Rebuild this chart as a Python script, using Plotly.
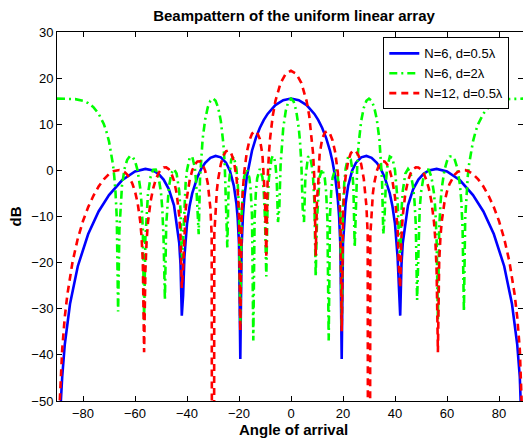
import plotly.graph_objects as go

# ---- data (angle in degrees, level in dB) ----
angle_n6_d05 = [-90, -89.5, -89, -88.5, -88, -87, -85, -82, -78, -74, -70, -65, -60, -56, -53, -51, -49, -47, -45, -43,
                -42.5, -42, -41.5, -41, -40, -39, -38, -36, -34.5, -33, -31, -29, -27, -25, -23.5, -22, -21, -20.5, -20,
                -19.5, -19, -18.5, -18, -17, -16, -15, -13.5, -12, -10.5, -9, -6, -3, 0, 3, 6, 9, 10.5, 12, 13.5, 15, 16,
                17, 18, 18.5, 19, 19.5, 20, 20.5, 21, 22, 23.5, 25, 27, 29, 31, 33, 34.5, 36, 38, 39, 40, 41, 41.5, 42,
                42.5, 43, 45, 47, 49, 51, 53, 56, 60, 65, 70, 74, 78, 82, 85, 87, 88, 88.5, 89, 89.5, 90]
db_n6_d05 = [-310, -68.9, -56.8, -49.9, -44.8, -37.7, -28.97, -20.78, -13.79, -8.90, -5.35, -2.15, -0.23, 0.31, -0.03,
             -0.74, -2.00, -4.04, -7.59, -15.7, -20.35, -31.5, -27.1, -18.8, -11.58, -7.74, -5.00, -1.46, 0.38, 1.64,
             2.73, 3.13, 2.83, 1.66, -0.06, -3.29, -7.17, -10.4, -15.9, -40.9, -16.5, -10.0, -6.25, -1.42, 1.81, 4.26,
             7.06, 9.20, 10.89, 12.24, 14.15, 15.22, 15.56, 15.22, 14.15, 12.24, 10.89, 9.20, 7.06, 4.26, 1.81, -1.42,
             -6.25, -10.0, -16.5, -40.9, -15.9, -10.4, -7.17, -3.29, -0.06, 1.66, 2.83, 3.13, 2.73, 1.64, 0.38, -1.46,
             -5.00, -7.74, -11.58, -18.8, -27.1, -31.5, -20.35, -15.7, -7.59, -4.04, -2.00, -0.74, -0.03, 0.31, -0.23,
             -2.15, -5.35, -8.90, -13.79, -20.78, -28.97, -37.7, -44.8, -49.9, -56.8, -68.9, -310]

angle_n6_d2 = [-90, -86, -83, -80, -78, -76, -74, -72, -71, -70, -69, -68.5, -68, -67.5, -67, -66.5, -66, -65.5, -65,
               -64, -63, -62, -61, -60, -59, -58, -57.5, -57, -56.5, -56, -55.5, -55, -54, -53, -52, -51, -50, -49.5,
               -49, -48.5, -48, -47.5, -47, -46, -45, -44, -43, -42.5, -42, -41.5, -41, -40.5, -40, -39, -38, -37,
               -36.5, -36, -35.5, -35, -34.5, -34, -33, -32, -31, -30, -29, -28, -27, -26, -25.5, -25, -24.5, -24,
               -23.5, -23, -22, -21, -20.5, -20, -19.5, -19, -18.5, -18, -17, -16, -15.5, -15, -14.5, -14, -13.5, -13,
               -12, -11, -10.5, -10, -9.5, -9, -8.5, -8, -7.5, -7, -6.5, -6, -5.5, -5, -4.5, -4, -3.5, -3, -2, -1,
               0, 1, 2, 3, 3.5, 4, 4.5, 5, 5.5, 6, 6.5, 7, 7.5, 8, 8.5, 9, 9.5, 10, 10.5, 11, 12, 13, 13.5, 14, 14.5,
               15, 15.5, 16, 17, 18, 18.5, 19, 19.5, 20, 20.5, 21, 22, 23, 23.5, 24, 24.5, 25, 25.5, 26, 27, 28, 29,
               30, 31, 32, 33, 34, 34.5, 35, 35.5, 36, 36.5, 37, 38, 39, 40, 40.5, 41, 41.5, 42, 42.5, 43, 44, 45, 46,
               47, 47.5, 48, 48.5, 49, 49.5, 50, 51, 52, 53, 54, 55, 55.5, 56, 56.5, 57, 57.5, 58, 59, 60, 61, 62, 63,
               64, 65, 65.5, 66, 66.5, 67, 67.5, 68, 68.5, 69, 70, 71, 72, 74, 76, 78, 80, 83, 86, 90]
db_n6_d2 = [15.56, 15.55, 15.45, 15.09, 14.58, 13.72, 12.31, 10.05, 8.42, 6.29, 3.34, 1.36, -1.17, -4.68, -10.43, -30.6,
            -12.86, -6.64, -3.27, 0.42, 2.30, 3.07, 2.99, 2.04, 0.01, -3.80, -7.04, -12.56, -32.5, -14.73, -8.39, -5.01,
            -1.39, 0.12, 0.17, -1.25, -4.86, -8.33, -15.05, -28.1, -11.83, -6.68, -3.73, -0.61, 0.30, -0.68, -4.44,
            -8.63, -19.55, -15.0, -6.57, -2.53, 0.04, 2.66, 3.01, 0.63, -2.50, -9.91, -13.83, -1.87, 3.33, 6.72, 11.08,
            13.69, 15.10, 15.56, 15.09, 13.58, 10.74, 5.71, 1.42, -6.44, -16.7, -3.60, 0.45, 2.33, 3.00, 0.36, -2.67,
            -8.31, -33.7, -9.78, -4.11, -1.39, 0.31, -1.58, -4.31, -9.71, -36.9, -10.45, -4.62, -1.73, 0.31, -1.44,
            -4.32, -10.65, -23.0, -6.89, -1.73, 1.00, 2.52, 3.12, 2.82, 1.39, -1.91, -11.2, -8.26, 1.23, 5.98, 9.10,
            12.97, 14.94,
            15.56, 14.94, 12.97, 9.10, 5.98, 1.23, -8.26, -11.2, -1.91, 1.39, 2.82, 3.12, 2.52, 1.00, -1.73, -6.89,
            -23.0, -10.65, -4.32, -1.44, 0.31, -1.73, -4.62, -10.45, -36.9, -9.71, -4.31, -1.58, 0.31, -1.39, -4.11,
            -9.78, -33.7, -8.31, -2.67, 0.36, 3.00, 2.33, 0.45, -3.60, -16.7, -6.44, 1.42, 5.71, 10.74, 13.58, 15.09,
            15.56, 15.10, 13.69, 11.08, 6.72, 3.33, -1.87, -13.83, -9.91, -2.50, 0.63, 3.01, 2.66, 0.04, -2.53, -6.57,
            -15.0, -19.55, -8.63, -4.44, -0.68, 0.30, -0.61, -3.73, -6.68, -11.83, -28.1, -15.05, -8.33, -4.86, -1.25,
            0.17, 0.12, -1.39, -5.01, -8.39, -14.73, -32.5, -12.56, -7.04, -3.80, 0.01, 2.04, 2.99, 3.07, 2.30, 0.42,
            -3.27, -6.64, -12.86, -30.6, -10.43, -4.68, -1.17, 1.36, 3.34, 6.29, 8.42, 10.05, 12.31, 13.72, 14.58,
            15.09, 15.45, 15.55, 15.56]

angle_n12_d05 = [-90, -89.5, -89, -88, -87, -86, -84, -82, -80, -78, -76, -74, -72, -70, -68, -67, -66, -65, -64, -63,
                 -62, -61, -60, -59, -58, -57.5, -57, -56.5, -56, -55.5, -55, -54, -53, -52, -51, -50, -49, -48, -47,
                 -46, -45, -44, -43, -42.5, -42, -41.5, -41, -40.5, -40, -39, -38, -37, -36, -35, -34, -33, -32,
                 -31.5, -31, -30.5, -30, -29.5, -29, -28.5, -28, -27, -26, -25, -24, -23, -22, -21, -20.5, -20, -19.5,
                 -19, -18.5, -18, -17, -16, -15, -14, -13, -12, -11, -10.5, -10, -9.5, -9, -8.5, -8, -7, -6, -4, -2,
                 0, 2, 4, 6, 7, 8, 8.5, 9, 9.5, 10, 10.5, 11, 12, 13, 14, 15, 16, 17, 18, 18.5, 19, 19.5, 20, 20.5, 21,
                 22, 23, 24, 25, 26, 27, 28, 28.5, 29, 29.5, 30, 30.5, 31, 31.5, 32, 33, 34, 35, 36, 37, 38, 39, 40,
                 40.5, 41, 41.5, 42, 42.5, 43, 44, 45, 46, 47, 48, 49, 50, 51, 52, 53, 54, 55, 55.5, 56, 56.5, 57, 57.5,
                 58, 59, 60, 61, 62, 63, 64, 65, 66, 67, 68, 70, 72, 74, 76, 78, 80, 82, 84, 86, 87, 88, 89, 89.5, 90]
db_n12_d05 = [-310, -62.9, -50.8, -38.8, -31.76, -26.86, -19.78, -14.78, -10.96, -7.96, -5.51, -3.50, -1.95, -0.81,
              -0.11, 0.05, 0.07, -0.07, -0.39, -0.93, -1.74, -2.90, -4.56, -7.02, -10.99, -14.21, -19.65, -39.4,
              -21.57, -14.93, -11.2, -6.69, -3.89, -1.97, -0.65, 0.20, 0.63, 0.66, 0.26, -0.66, -2.26, -4.92, -9.76,
              -14.33, -25.5, -21.1, -12.71, -8.53, -5.78, -2.21, -0.03, 1.29, 1.94, 1.97, 1.34, -0.11, -2.82, -5.0,
              -8.25, -14.07, -310, -13.8, -7.72, -4.26, -1.85, 1.34, 3.19, 4.15, 4.34, 3.71, 2.04, -1.39, -4.46, -9.93,
              -34.9, -10.5, -4.13, -0.46, 3.91, 6.48, 7.93, 8.51, 8.20, 6.82, 3.48, -2.63, -6.25, -18.5, -2.06, 3.61,
              7.16, 11.88, 15.02, 18.94, 20.95,
              21.58, 20.95, 18.94, 15.02, 11.88, 7.16, 3.61, -2.06, -18.5, -6.25, -2.63, 3.48, 6.82, 8.20, 8.51, 7.93,
              6.48, 3.91, -0.46, -4.13, -10.5, -34.9, -9.93, -4.46, -1.39, 2.04, 3.71, 4.34, 4.15, 3.19, 1.34, -1.85,
              -4.26, -7.72, -13.8, -310, -14.07, -8.25, -5.0, -2.82, -0.11, 1.34, 1.97, 1.94, 1.29, -0.03, -2.21,
              -5.78, -8.53, -12.71, -21.1, -25.5, -14.33, -9.76, -4.92, -2.26, -0.66, 0.26, 0.66, 0.63, 0.20, -0.65,
              -1.97, -3.89, -6.69, -11.2, -14.93, -21.57, -39.4, -19.65, -14.21, -10.99, -7.02, -4.56, -2.90, -1.74,
              -0.93, -0.39, -0.07, 0.07, 0.05, -0.11, -0.81, -1.95, -3.50, -5.51, -7.96, -10.96, -14.78, -19.78,
              -26.86, -31.76, -38.8, -50.8, -62.9, -310]

legend_names = ["N=6, d=0.5\u03bb", "N=6, d=2\u03bb", "N=12, d=0.5\u03bb"]
x_ticks = [-80, -60, -40, -20, 0, 20, 40, 60, 80]
y_ticks = [-50, -40, -30, -20, -10, 0, 10, 20, 30]

assert len(angle_n6_d05) == len(db_n6_d05)
assert len(angle_n6_d2) == len(db_n6_d2)
assert len(angle_n12_d05) == len(db_n12_d05)

FONT = "Liberation Sans, Arial, Helvetica, sans-serif"

fig = go.Figure()
fig.add_trace(go.Scatter(x=angle_n6_d05, y=db_n6_d05, mode="lines", name=legend_names[0],
                         line=dict(color="#0000ff", width=2.6)))
fig.add_trace(go.Scatter(x=angle_n6_d2, y=db_n6_d2, mode="lines", name=legend_names[1],
                         line=dict(color="#00ff00", width=2.6, dash="8px,4px,2px,4px")))
fig.add_trace(go.Scatter(x=angle_n12_d05, y=db_n12_d05, mode="lines", name=legend_names[2],
                         line=dict(color="#ff0000", width=2.6, dash="7px,5px")))

axis_common = dict(showgrid=False, zeroline=False, showline=True, linecolor="black", linewidth=1,
                   mirror="ticks", ticks="inside", ticklen=5, tickcolor="black", tickwidth=1,
                   tickfont=dict(family=FONT, size=13, color="black"))

fig.update_layout(
    width=523, height=439,
    margin=dict(l=57, r=0, t=32, b=38),
    paper_bgcolor="white", plot_bgcolor="white",
    font=dict(family=FONT, size=13, color="black"),
    title=dict(text="<b>Beampattern of the uniform linear array</b>",
               font=dict(family=FONT, size=15, color="black"),
               x=294 / 523, xref="container", xanchor="center",
               y=1 - 15.5 / 439, yref="container", yanchor="middle"),
    xaxis=dict(range=[-90, 89.23], tickvals=x_ticks, **axis_common),
    yaxis=dict(range=[-50, 30], tickvals=y_ticks, **axis_common),
    legend=dict(x=0.9706, y=0.9854, xanchor="right", yanchor="top",
                bgcolor="white", bordercolor="black", borderwidth=1,
                font=dict(family=FONT, size=13, color="black")),
    showlegend=True,
    annotations=[
        dict(text="<b>Angle of arrival</b>", xref="paper", yref="paper", x=0.508, y=-0.0767,
             xanchor="center", yanchor="middle", showarrow=False,
             font=dict(family=FONT, size=15, color="black")),
        dict(text="<b>dB</b>", xref="paper", yref="paper", x=-0.088, y=0.5, textangle=-90,
             xanchor="center", yanchor="middle", showarrow=False,
             font=dict(family=FONT, size=15, color="black")),
    ],
)

fig.write_html("out.html")
